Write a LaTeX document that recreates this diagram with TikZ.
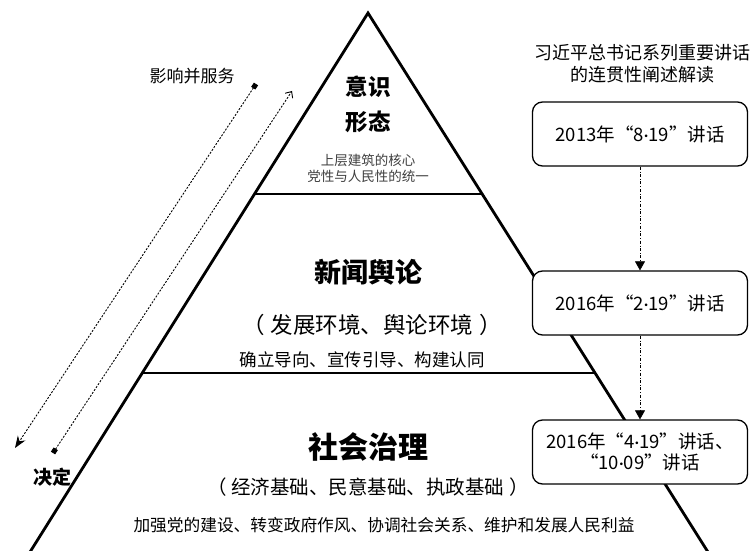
\documentclass[tikz,border=0pt]{standalone}
\usepackage{fontspec}
\setmainfont{Noto Sans CJK SC}
\newfontfamily\latin{Carlito}
\newcommand{\middot}{{\latin ·}}
\usetikzlibrary{arrows.meta}
\tikzstyle{speech} = [rectangle, rounded corners=10pt, minimum width=215pt, minimum height=64pt, text centered, align=center, draw=black, line width=1.3pt, fill=white, font=\fontsize{18.5}{21}\selectfont]
\tikzstyle{title} = [align=center, font=\fontsize{18}{22}\selectfont]
\tikzstyle{layer} = [align=center, font=\bfseries]
\tikzstyle{note} = [align=center]
\tikzstyle{side} = [line width=2.8pt, line join=miter]
\tikzstyle{flow} = [dash dot, line width=0.6pt, -{Triangle[length=9pt,width=10pt]}]
\tikzstyle{effect} = [dash pattern=on 2pt off 1.5pt, line width=0.9pt]

\begin{document}
\begin{tikzpicture}[x=1pt, y=1pt, node distance=169pt]
    \clip (0,0) rectangle (755,550);
    \fill [white] (0,0) rectangle (755,550);
    % pyramid
    \coordinate (apex) at (368,537);
    \coordinate (bl) at (25,-10);
    \coordinate (br) at (713,-10);
    \coordinate (l1) at (254,356);
    \coordinate (r1) at (482,356);
    \coordinate (l2) at (141,177);
    \coordinate (r2) at (595,177);
    \draw [side] (bl) -- (apex) -- (br);
    \draw [line width=2pt] (l1) -- (r1);
    \draw [line width=2pt] (l2) -- (r2);

    \node (ideo) [layer, font=\bfseries\fontsize{22.5}{35}\selectfont] at (368,446) {意识\\形态};
    \node (core) [note, text=black!75, font=\fontsize{13.5}{16}\selectfont] at (368,382) {上层建筑的核心\\党性与人民性的统一};
    \node (news) [layer, font=\bfseries\fontsize{27}{30}\selectfont] at (368,278) {新闻舆论};
    \node (env) [note, font=\fontsize{22.5}{26}\selectfont] at (372,225) {（\hspace{6pt}发展环境、舆论环境\hspace{6pt}）};
    \node (guide) [note, font=\fontsize{17.5}{20}\selectfont] at (362,190) {确立导向、宣传引导、构建认同};
    \node (gov) [layer, font=\bfseries\fontsize{30}{34}\selectfont] at (368,103) {社会治理};
    \node (base) [note, font=\fontsize{19.5}{23}\selectfont] at (368,63) {（\hspace{5pt}经济基础、民意基础、执政基础\hspace{5pt}）};
    \node (tasks) [note, font=\fontsize{16.7}{20}\selectfont] at (384,25) {加强党的建设、转变政府作风、协调社会关系、维护和发展人民利益};

    % influence and decide
    \coordinate (s1) at (256,466);
    \coordinate (e1) at (15,102);
    \coordinate (s2) at (53,97);
    \coordinate (e2) at (292,459);
    \draw [effect, {Square[length=5pt,width=5pt]}-{Stealth[length=12pt,width=9pt]}] (s1) -- (e1);
    \draw [effect, {Square[length=5pt,width=5pt]}-{Straight Barb[length=5pt,width=9pt]}] (s2) -- (e2);
    \node (serve) [note, font=\fontsize{17}{20}\selectfont] at (192,474) {影响并服务};
    \node (decide) [note, font=\bfseries\fontsize{19}{22}\selectfont] at (53,73) {决定};

    % speeches
    \node (box1) [speech] at (640,416) {2013年“8\middot19”讲话};
    \node (head) [title] at (642,486) {习近平总书记系列重要讲话\\的连贯性阐述解读};
    \node (box2) [speech, below of=box1] {2016年“2\middot19”讲话};
    \node (box3) [speech, below of=box2, yshift=20pt] {2016年“4\middot19”讲话、\\“10\middot09”讲话};
    \draw [flow] (box1) -- (box2);
    \draw [flow] (box2) -- (box3);

\end{tikzpicture}
\end{document}
